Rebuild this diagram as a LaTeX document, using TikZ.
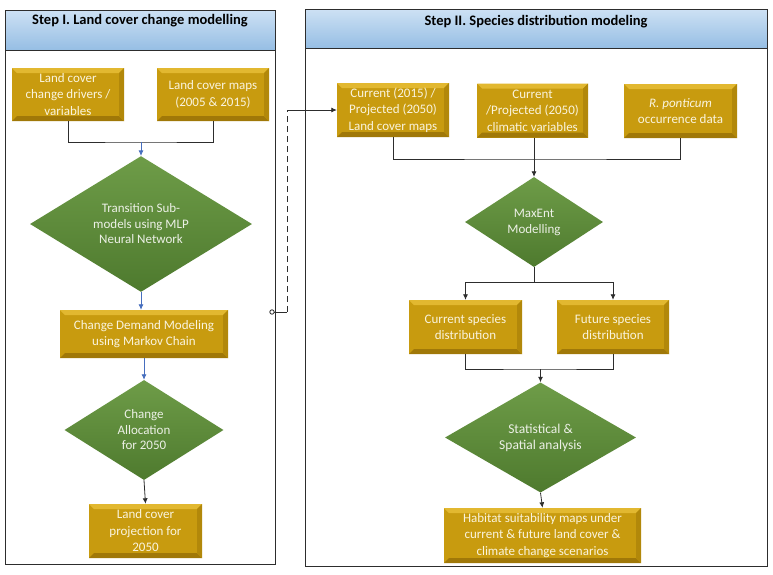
\documentclass[tikz,border=0pt]{standalone}
\usepackage{fontspec}
\setmainfont{Carlito}
\usetikzlibrary{shapes.geometric,arrows.meta}

\begin{document}
\begin{tikzpicture}[x=1pt,y=-1pt,
    goldbox/.style={rectangle,fill=kGold,text=kCream,align=center,inner sep=2pt,
      font=\fontsize{13}{16.5}\selectfont,
      path picture={
        \fill[kGoldLight] (path picture bounding box.north west) -- (path picture bounding box.north east)
          -- ([xshift=-5pt,yshift=-5pt]path picture bounding box.north east) -- ([xshift=5pt,yshift=-5pt]path picture bounding box.north west) -- cycle;
        \fill[kGoldDark] (path picture bounding box.south west) -- (path picture bounding box.south east)
          -- ([xshift=-5pt,yshift=5pt]path picture bounding box.south east) -- ([xshift=5pt,yshift=5pt]path picture bounding box.south west) -- cycle;
        \fill[kGoldMid] (path picture bounding box.north east) -- (path picture bounding box.south east)
          -- ([xshift=-5pt,yshift=5pt]path picture bounding box.south east) -- ([xshift=-5pt,yshift=-5pt]path picture bounding box.north east) -- cycle;
      }},
    greendiam/.style={diamond,top color=kGreenLight,bottom color=kGreen,text=kPale,align=center,
      inner sep=0pt,font=\fontsize{13}{15.5}\selectfont},
    header/.style={top color=kBlueLight,bottom color=kBlue,draw=kBorder,line width=0.8pt},
    panel/.style={draw=kBorder,line width=1pt},
    link/.style={kBorder,line width=0.8pt},
    arr/.style={kBorder,line width=0.8pt,-{Latex[length=5.5pt,width=5pt]}},
    barr/.style={kArrowBlue,line width=0.8pt,-{Latex[length=5.5pt,width=5pt]}}]
  \definecolor{kGold}{RGB}{200,155,15}
  \definecolor{kGoldLight}{RGB}{226,184,48}
  \definecolor{kGoldMid}{RGB}{178,136,10}
  \definecolor{kGoldDark}{RGB}{160,120,8}
  \definecolor{kCream}{RGB}{250,244,222}
  \definecolor{kGreen}{RGB}{78,122,46}
  \definecolor{kGreenLight}{RGB}{110,156,72}
  \definecolor{kPale}{RGB}{236,240,230}
  \definecolor{kBlue}{RGB}{150,190,228}
  \definecolor{kBlueLight}{RGB}{205,225,244}
  \definecolor{kBorder}{RGB}{45,45,45}
  \definecolor{kArrowBlue}{RGB}{70,110,190}

  \useasboundingbox[fill=white] (0,0) rectangle (773,574);

  % panels
  \draw[panel] (5,10) rectangle (275,564);
  \draw[header] (5,10) rectangle (275,50);
  \node[font=\bfseries\fontsize{14.5}{16}\selectfont] (hdA) at (140,21) {Step I. Land cover change modelling};

  \draw[panel] (305,9) rectangle (767,566);
  \draw[header] (305,9) rectangle (767,48);
  \node[font=\bfseries\fontsize{14.5}{16}\selectfont] (hdB) at (536,22) {Step II. Species distribution modeling};

  % step I
  \node[goldbox,minimum width=112,minimum height=53] (drv) at (68,94.5) {Land cover\\change drivers /\\variables};
  \node[goldbox,minimum width=112,minimum height=53] (maps) at (213,94.5) {Land cover maps\\(2005 \& 2015)};
  \node[greendiam,minimum width=222,minimum height=106] (trans) at (141,224) {Transition Sub-\\models using MLP\\Neural Network};
  \node[goldbox,minimum width=168,minimum height=48] (demand) at (144,334) {Change Demand Modeling\\using Markov Chain};
  \node[greendiam,minimum width=159,minimum height=100] (alloc) at (144,430) {Change\\Allocation\\for 2050};
  \node[goldbox,minimum width=113,minimum height=54] (proj) at (145.5,531) {Land cover\\projection for\\2050};

  \coordinate (jA) at (141,142);
  \draw[link] (drv.south) |- (jA) -| (maps.south);
  \draw[barr] (jA) -- (trans.north);
  \draw[barr] (trans.south) -- (trans.south |- demand.north);
  \draw[barr] (demand.south) -- (alloc.north);
  \draw[arr] (alloc.south) -- (proj.north);

  % step II
  \node[goldbox,minimum width=112,minimum height=54] (lcm) at (393,110) {Current (2015) /\\Projected (2050)\\Land cover maps};
  \node[goldbox,minimum width=111,minimum height=54] (clim) at (532.5,110.5) {Current\\/Projected (2050)\\climatic variables};
  \node[goldbox,minimum width=113,minimum height=54] (occ) at (680.5,111) {\textit{R. ponticum}\\occurrence data};
  \node[greendiam,minimum width=138,minimum height=90,font=\fontsize{13}{16}\selectfont] (maxent) at (534,222) {MaxEnt\\Modelling};
  \node[goldbox,minimum width=113,minimum height=54] (cur) at (465.5,327) {Current species\\distribution};
  \node[goldbox,minimum width=112,minimum height=54] (fut) at (613,327) {Future species\\distribution};
  \node[greendiam,minimum width=191,minimum height=89,font=\fontsize{13.5}{16}\selectfont] (stat) at (540.5,437.5) {Statistical \&\\Spatial analysis};
  \node[goldbox,minimum width=197,minimum height=55] (hab) at (542.5,535.5) {Habitat suitability maps under\\current \& future land cover \&\\climate change scenarios};

  \coordinate (jB) at (534,159);
  \coordinate (jC) at (534,282);
  \coordinate (jD) at (540.5,369);
  \draw[link] (lcm.south) |- (jB) -| (occ.south);
  \draw[arr] (clim.south -| jB) -- (maxent.north);
  \draw[link] (maxent.south) -- (jC);
  \draw[arr] (jC) -| (cur.north);
  \draw[arr] (jC) -| (fut.north);
  \draw[link] (cur.south) |- (jD) -| (fut.south);
  \draw[arr] (jD) -- (stat.north);
  \draw[arr] (stat.south) -- (hab.north);

  % link between steps
  \coordinate (lk) at (272,312);
  \coordinate (dLow) at (287,312);
  \draw[link] ([xshift=2.2pt]lk) -- (dLow);
  \draw[link,fill=white] (lk) circle (2.2pt);
  \draw[link,dash pattern=on 6pt off 4pt] (dLow) -- (lcm.west -| dLow);
  \draw[arr] (lcm.west -| dLow) -- (lcm.west);
\end{tikzpicture}
\end{document}
